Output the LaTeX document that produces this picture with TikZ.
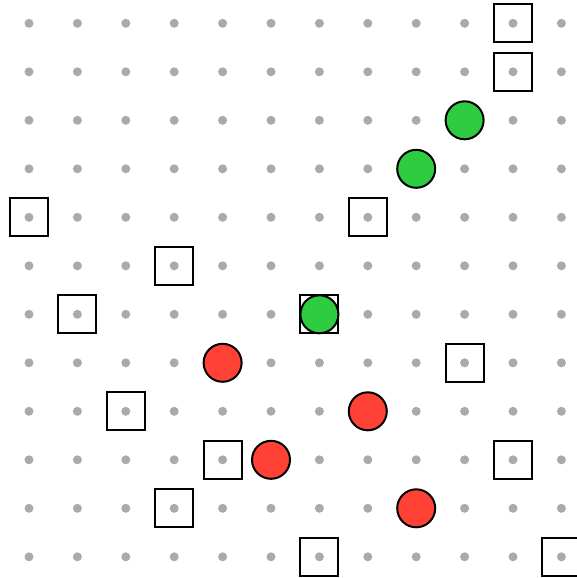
\documentclass[tikz,border=0pt]{standalone}
\definecolor{dotgrey}{HTML}{AAAAAA}
\definecolor{okgreen}{HTML}{2ECC40}
\definecolor{badred}{HTML}{FF4136}
\tikzset{
  px/.style={x=0.75pt,y=-0.75pt},
  griddot/.style={circle,fill=dotgrey,inner sep=0pt,minimum size=6.75pt},
  sqbox/.style={draw=black,line width=1.5pt,fill=none,inner sep=0pt,minimum size=28.5pt},
  goodball/.style={circle,draw=black,line width=1.5pt,fill=okgreen,inner sep=0pt,minimum size=28.5pt},
  badball/.style={circle,draw=black,line width=1.5pt,fill=badred,inner sep=0pt,minimum size=28.5pt}
}
\begin{document}
\begin{tikzpicture}[px]
\useasboundingbox (0,0) rectangle (577,578);
\clip (0,0) rectangle (577,578);
\foreach \c in {0,...,11}{
  \foreach \r in {0,...,11}{
    \node[griddot] (d-\c-\r) at ({29+48.4*\c},{23.3+48.5*\r}) {};
  }
}
\foreach \c/\r [count=\i] in {10/0,10/1,0/4,7/4,3/5,1/6,6/6,9/7,2/8,4/9,10/9,3/10,6/11,11/11}{
  \node[sqbox] (s\i) at (d-\c-\r) {};
}
\foreach \c/\r [count=\i] in {9/2,8/3,6/6}{
  \node[goodball] (g\i) at (d-\c-\r) {};
}
\foreach \c/\r [count=\i] in {4/7,7/8,5/9,8/10}{
  \node[badball] (b\i) at (d-\c-\r) {};
}
\end{tikzpicture}
\end{document}
